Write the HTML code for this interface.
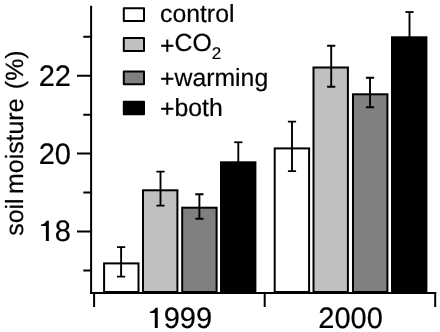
<!DOCTYPE html>
<html><head><meta charset="utf-8">
<style>
html,body{margin:0;padding:0;background:#fff;}
body{width:440px;height:332px;overflow:hidden;}
svg{display:block;will-change:transform;}
text{font-family:"Liberation Sans",sans-serif;fill:#000;stroke:#000;stroke-width:0.2px;text-rendering:geometricPrecision;}
</style></head><body>
<svg width="440" height="332" viewBox="0 0 440 332">
<rect width="440" height="332" fill="#fff"/>
<g stroke="#000" stroke-width="2">
<rect x="104.10" y="263.40" width="34.40" height="28.60" fill="#fff"/>
<rect x="143.00" y="190.30" width="34.40" height="101.70" fill="#c0c0c0"/>
<rect x="182.20" y="207.70" width="34.40" height="84.30" fill="#808080"/>
<rect x="221.00" y="162.30" width="34.40" height="129.70" fill="#000"/>
<rect x="274.70" y="148.40" width="34.40" height="143.60" fill="#fff"/>
<rect x="313.50" y="67.50" width="34.40" height="224.50" fill="#c0c0c0"/>
<rect x="353.00" y="94.30" width="34.40" height="197.70" fill="#808080"/>
<rect x="392.00" y="37.30" width="34.40" height="254.70" fill="#000"/>
</g>
<g stroke="#000" fill="none">
<path stroke-width="1.9" d="M121.10 246.80V276.90"/>
<path stroke-width="1.8" d="M117.00 247.05h8.2M117.00 276.65h8.2"/>
<path stroke-width="1.9" d="M160.50 171.30V205.80"/>
<path stroke-width="1.8" d="M156.40 171.55h8.2M156.40 205.55h8.2"/>
<path stroke-width="1.9" d="M199.40 194.00V219.00"/>
<path stroke-width="1.8" d="M195.30 194.25h8.2M195.30 218.75h8.2"/>
<path stroke-width="1.9" d="M238.30 142.00V166.30"/>
<path stroke-width="1.8" d="M234.20 142.25h8.2"/>
<path stroke-width="1.9" d="M292.00 121.30V171.30"/>
<path stroke-width="1.8" d="M287.90 121.55h8.2M287.90 171.05h8.2"/>
<path stroke-width="1.9" d="M331.20 45.50V87.00"/>
<path stroke-width="1.8" d="M327.10 45.75h8.2M327.10 86.75h8.2"/>
<path stroke-width="1.9" d="M370.00 77.50V107.50"/>
<path stroke-width="1.8" d="M365.90 77.75h8.2M365.90 107.25h8.2"/>
<path stroke-width="1.9" d="M409.50 11.80V41.30"/>
<path stroke-width="1.8" d="M405.40 12.05h8.2"/>
</g>
<g stroke="#000" stroke-width="2" fill="none">
<path d="M91.1 5.7V293.9"/>
<path d="M90.1 292.9H436.2"/>
<path d="M77 75.67H91M77 153.61H91M77 231.55H91"/>
<path d="M83.3 36.70H91M83.3 114.64H91M83.3 192.58H91M83.3 270.52H91"/>
<path d="M94.1 293V307M264.7 293V307M435.2 293V307"/>
</g>
<g font-size="29.6" text-anchor="end">
<text transform="translate(70.9 86) scale(0.98 1)">22</text>
<text transform="translate(70.9 164) scale(0.98 1)">20</text>
<text transform="translate(70.9 241) scale(0.98 1)">18</text>
<rect x="38.63" y="218.69" width="15.83" height="23.81" fill="#fff"/><path d="M45.89 241.00V226.05H41.07V224.54C43.28 224.19 45.74 223.09 46.52 220.64H48.85V241.00Z" fill="#000"/>
</g>
<g font-size="29.6">
<text transform="translate(147.53 328) scale(0.98 1)">1999</text>
<rect x="147.53" y="305.69" width="15.83" height="23.81" fill="#fff"/><path d="M154.79 328.00V313.05H149.97V311.54C152.18 311.19 154.64 310.09 155.42 307.64H157.75V328.00Z" fill="#000"/>
<text transform="translate(318.33 328) scale(0.98 1)">2000</text>
</g>

<text font-size="24.9" transform="translate(22.6 235.8) rotate(-90)">soil <tspan dx="-2.4">moisture</tspan> <tspan dx="2.4">(%)</tspan></text>
<g stroke="#000" stroke-width="2" stroke-linejoin="round">
<rect x="123.8" y="8.2" width="20.2" height="12.9" fill="#fff"/>
<rect x="123.8" y="38.1" width="20.2" height="13" fill="#c0c0c0"/>
<rect x="123.8" y="71.5" width="20.2" height="12.8" fill="#808080"/>
<rect x="123.8" y="101.7" width="20.2" height="12.5" fill="#000"/>
</g>
<g font-size="24.8">
<text x="160" y="22">control</text>
<text x="160" y="51"><tspan dy="3">+</tspan><tspan dy="-3">CO</tspan><tspan font-size="17" dy="8">2</tspan></text>
<text x="160" y="86"><tspan dy="1">+</tspan><tspan dy="-1">warming</tspan></text>
<text x="160" y="116"><tspan dy="1">+</tspan><tspan dy="-1">both</tspan></text>
</g>
</svg>
</body></html>
